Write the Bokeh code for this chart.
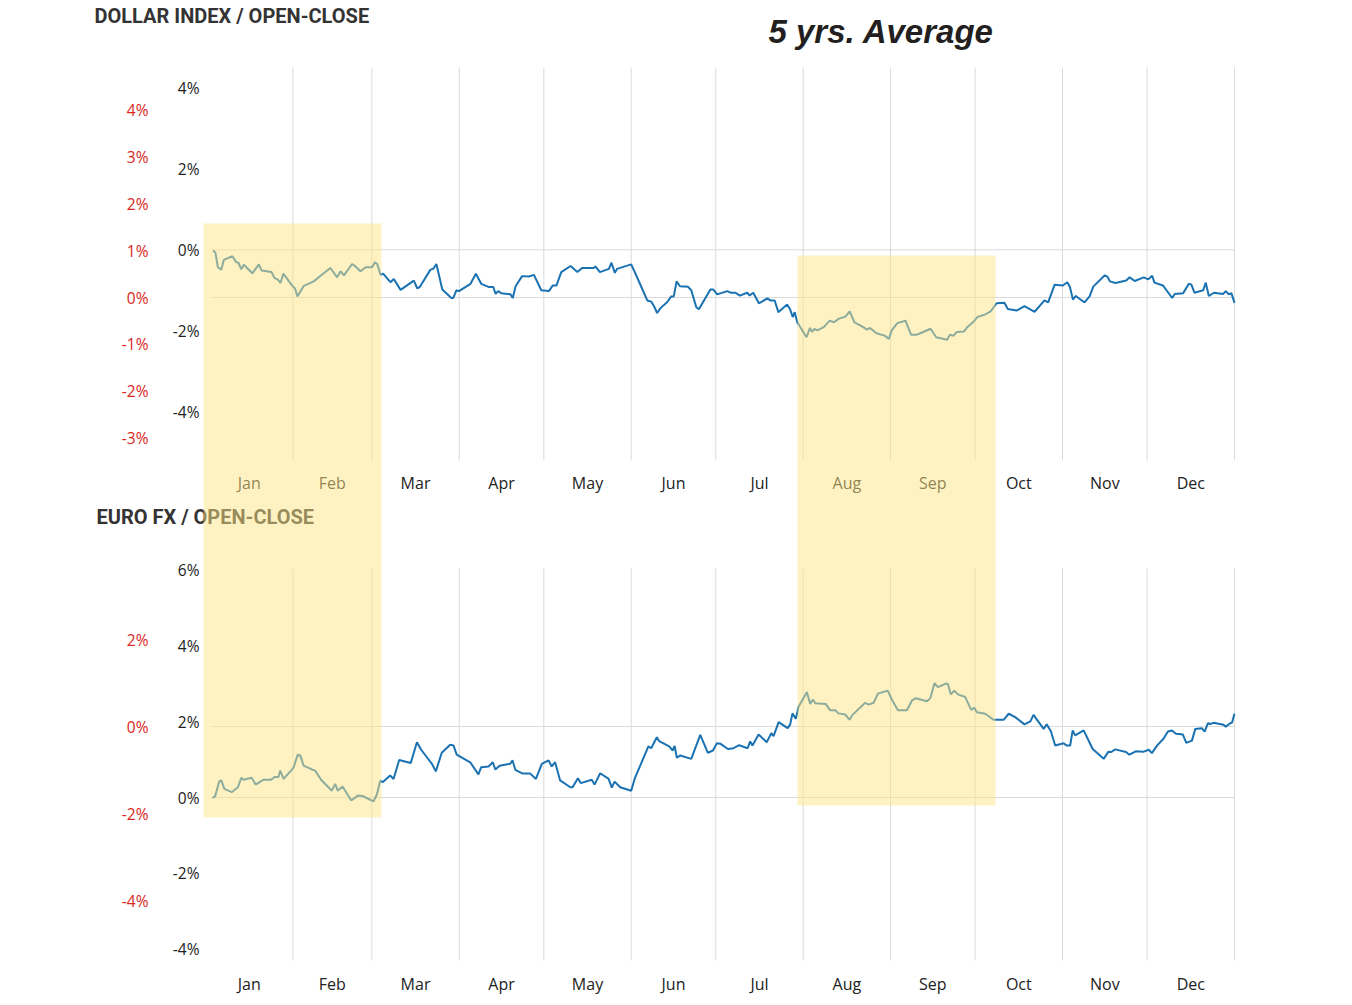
from bokeh.plotting import figure
from bokeh.models import Range1d, LinearAxis, FixedTicker, Label, BoxAnnotation
from bokeh.core.properties import value
from bokeh.embed import file_html
from bokeh.resources import INLINE

# ---- data -------------------------------------------------------------
months = ["Jan", "Feb", "Mar", "Apr", "May", "Jun",
          "Jul", "Aug", "Sep", "Oct", "Nov", "Dec"]
month_start = [0, 31, 59, 90, 120, 151, 181, 212, 243, 273, 304, 334, 365]

# dollar index, 5 yr average open-close path (% from Jan 1), by day of year
dollar_day = [2.7, 3.5, 4.4, 5.6, 6.5, 9.5, 11.0, 11.7, 12.7, 13.6, 16.6, 18.9, 19.9,
              23.4, 24.5, 25.6, 26.6, 27.6, 30.8, 31.8, 32.6, 34.9, 38.4, 40.8, 44.3,
              46.7, 47.9, 49.1, 52.0, 53.2, 55.0, 56.8, 59.1, 60.1, 60.9, 62.1, 63.0,
              65.6, 66.8, 69.2, 73.9, 75.1, 76.0, 79.8, 80.8, 81.9, 84.0, 87.2, 87.9,
              89.0, 89.9, 94.0, 95.9, 97.8, 100.6, 102.1, 102.9, 103.8, 104.9, 108.2,
              109.0, 110.0, 112.3, 114.7, 116.5, 119.1, 121.8, 123.2, 124.5, 126.2,
              129.5, 131.9, 133.6, 137.7, 138.3, 139.9, 143.1, 144.0, 145.2, 146.0,
              151.0, 152.0, 154.5, 156.7, 158.1, 159.0, 160.2, 161.4, 163.8, 165.2,
              166.1, 167.1, 168.3, 171.1, 172.3, 174.1, 175.0, 179.1, 180.1, 181.5,
              185.1, 186.2, 188.0, 189.5, 192.2, 193.0, 194.3, 196.3, 199.3, 200.4,
              201.9, 203.2, 206.3, 207.3, 208.3, 209.0, 209.9, 213.2, 214.4, 215.2,
              216.0, 217.0, 219.3, 221.4, 222.9, 224.7, 227.0, 228.5, 230.2, 232.4,
              234.7, 235.7, 238.0, 240.9, 242.4, 243.4, 245.4, 248.3, 250.3, 252.2,
              254.6, 257.2, 259.2, 263.1, 264.0, 265.4, 266.4, 269.0, 270.2, 272.5,
              273.8, 276.4, 278.5, 280.6, 283.4, 284.6, 287.7, 290.5, 294.1, 297.6,
              298.9, 301.2, 304.1, 305.7, 306.6, 307.7, 308.7, 311.8, 313.6, 314.9,
              319.0, 319.9, 320.8, 322.8, 326.6, 327.8, 329.6, 332.8, 334.4, 335.8,
              336.6, 339.6, 342.9, 343.8, 346.8, 348.8, 349.7, 350.8, 353.9, 354.8,
              355.9, 357.7, 361.0, 361.9, 363.0, 363.9, 365.0]
dollar_pct = [-0.02, -0.07, -0.43, -0.49, -0.25, -0.16, -0.31, -0.32, -0.48, -0.37, -0.58,
              -0.36, -0.51, -0.55, -0.70, -0.73, -0.82, -0.59, -0.89, -0.96, -1.15, -0.89,
              -0.78, -0.64, -0.45, -0.68, -0.53, -0.63, -0.35, -0.41, -0.53, -0.43, -0.43,
              -0.31, -0.35, -0.62, -0.59, -0.80, -0.72, -0.99, -0.76, -0.95, -0.92, -0.49,
              -0.47, -0.35, -0.98, -1.19, -1.19, -1.00, -1.02, -0.84, -0.59, -0.84, -0.92,
              -0.92, -1.09, -1.02, -1.07, -1.10, -1.19, -0.90, -0.65, -0.66, -0.62, -1.00,
              -1.02, -0.88, -0.88, -0.55, -0.40, -0.55, -0.45, -0.45, -0.41, -0.55, -0.47,
              -0.32, -0.57, -0.47, -0.36, -0.51, -0.90, -1.25, -1.28, -1.38, -1.56, -1.44,
              -1.29, -1.15, -1.15, -0.78, -0.90, -0.91, -1.00, -1.42, -1.47, -0.98, -0.98,
              -1.10, -1.02, -1.06, -1.06, -1.13, -1.06, -1.13, -1.06, -1.32, -1.20, -1.25,
              -1.25, -1.54, -1.35, -1.46, -1.66, -1.54, -1.79, -2.16, -1.93, -2.03, -1.95,
              -1.99, -1.91, -1.75, -1.79, -1.70, -1.65, -1.52, -1.79, -1.87, -1.97, -1.93,
              -2.06, -2.12, -2.20, -1.99, -1.81, -1.75, -2.10, -2.10, -2.03, -1.95, -2.16,
              -2.22, -2.10, -2.12, -2.03, -2.02, -1.91, -1.77, -1.66, -1.60, -1.52, -1.32,
              -1.31, -1.46, -1.50, -1.39, -1.53, -1.25, -1.30, -0.86, -0.88, -0.80, -0.91,
              -1.23, -1.14, -1.30, -1.15, -0.91, -0.63, -0.66, -0.78, -0.82, -0.76, -0.68,
              -0.77, -0.68, -0.73, -0.64, -0.81, -0.88, -1.19, -1.09, -1.07, -0.84, -0.86,
              -1.06, -1.00, -0.81, -1.14, -1.06, -1.09, -1.02, -1.10, -1.07, -1.31]

# euro fx, 5 yr average open-close path (% from Jan 1), by day of year
euro_day = [2.5, 3.4, 4.9, 5.6, 6.7, 9.3, 11.5, 12.7, 13.5, 16.4, 17.8, 20.6, 23.3, 24.5,
            25.9, 26.5, 27.7, 31.2, 32.7, 33.6, 34.8, 37.7, 38.9, 41.0, 44.8, 46.0, 46.9,
            48.6, 51.7, 54.0, 55.7, 59.6, 60.8, 62.0, 62.8, 65.5, 66.7, 68.7, 72.8, 75.0,
            76.5, 80.3, 81.7, 83.8, 86.8, 88.0, 89.1, 93.9, 96.8, 97.8, 100.4, 101.9,
            102.8, 104.3, 108.1, 108.9, 109.9, 112.5, 115.2, 117.2, 119.3, 121.7, 122.8,
            124.0, 125.8, 129.4, 130.2, 132.1, 133.1, 137.0, 138.0, 140.0, 143.0, 144.1,
            145.1, 147.1, 151.0, 152.2, 157.1, 158.1, 160.1, 160.9, 164.5, 165.7, 166.4,
            167.2, 168.4, 172.3, 175.5, 178.2, 180.0, 181.4, 182.6, 185.3, 187.3, 189.3,
            192.3, 193.2, 194.0, 196.2, 199.1, 200.7, 201.5, 203.3, 206.5, 207.4, 208.2,
            209.4, 210.4, 213.3, 214.5, 215.4, 216.3, 220.0, 221.6, 223.4, 224.5, 226.9,
            228.5, 229.5, 234.0, 235.2, 237.0, 238.5, 242.0, 243.5, 245.6, 248.8, 250.6,
            252.0, 255.9, 257.1, 258.6, 259.8, 262.4, 263.3, 264.4, 265.6, 266.9, 269.5,
            271.6, 272.7, 273.6, 276.6, 279.5, 283.1, 284.9, 287.2, 290.5, 292.6, 293.7,
            297.3, 298.4, 299.9, 301.4, 304.4, 305.5, 306.7, 307.6, 308.5, 311.5, 314.7,
            318.6, 320.3, 321.3, 322.7, 326.5, 327.7, 330.0, 332.8, 334.6, 335.7, 337.5,
            339.8, 341.4, 342.8, 344.2, 346.7, 347.9, 349.9, 351.1, 353.4, 354.4, 355.6,
            356.4, 357.6, 361.1, 361.9, 363.5, 364.1, 365.0]
euro_pct = [-0.01, 0.03, 0.43, 0.45, 0.23, 0.14, 0.27, 0.52, 0.47, 0.52, 0.34, 0.47, 0.47,
            0.54, 0.54, 0.71, 0.49, 0.78, 1.13, 1.11, 0.84, 0.74, 0.71, 0.47, 0.18, 0.36,
            0.18, 0.29, -0.08, 0.05, 0.04, -0.10, 0.08, 0.45, 0.40, 0.58, 0.49, 0.99, 0.91,
            1.46, 1.26, 0.89, 0.69, 1.18, 1.39, 1.37, 1.13, 0.93, 0.61, 0.80, 0.82, 0.93,
            0.74, 0.84, 0.89, 0.98, 0.73, 0.63, 0.63, 0.49, 0.89, 0.98, 0.82, 0.93, 0.45,
            0.27, 0.27, 0.51, 0.38, 0.47, 0.34, 0.64, 0.49, 0.26, 0.42, 0.27, 0.18, 0.49,
            1.35, 1.30, 1.59, 1.49, 1.35, 1.24, 1.36, 1.05, 1.11, 1.02, 1.65, 1.18, 1.24,
            1.43, 1.42, 1.28, 1.30, 1.38, 1.30, 1.48, 1.37, 1.66, 1.46, 1.70, 1.62, 1.99,
            1.83, 1.93, 2.22, 2.08, 2.40, 2.78, 2.47, 2.58, 2.49, 2.47, 2.30, 2.30, 2.22,
            2.19, 2.05, 2.18, 2.50, 2.45, 2.50, 2.74, 2.82, 2.58, 2.30, 2.30, 2.56, 2.62,
            2.54, 2.62, 3.02, 2.91, 3.00, 3.00, 2.72, 2.82, 2.72, 2.65, 2.31, 2.37, 2.25,
            2.21, 2.05, 2.05, 2.21, 2.12, 1.93, 2.01, 2.18, 1.81, 1.93, 1.74, 1.37, 1.43,
            1.37, 1.37, 1.77, 1.64, 1.77, 1.28, 1.02, 1.21, 1.20, 1.27, 1.20, 1.13, 1.22,
            1.21, 1.26, 1.17, 1.37, 1.55, 1.74, 1.77, 1.68, 1.66, 1.44, 1.50, 1.81, 1.83,
            1.74, 1.96, 1.94, 1.97, 1.92, 1.87, 1.96, 1.97, 2.21]

dollar_ticks = [4, 2, 0, -2, -4]
dollar_red_ticks = [4, 3, 2, 1, 0, -1, -2, -3]
euro_ticks = [6, 4, 2, 0, -2, -4]
euro_red_ticks = [2, 0, -2, -4]

# seasonal windows: start/end day, top on dollar scale (%), bottom on euro scale (%)
hl_start = [-0.7, 210.0]
hl_end = [62.4, 280.2]
hl_top = [0.65, -0.14]
hl_bottom = [-0.53, -0.21]

# ---- layout: both panels share one frame that fills the canvas ---------
W = 1344
FRAME_H = 965
PX_PER_DAY = 1029 / 365     # Jan 1 sits 205 px from the left edge
DAY0_PX = 205
BLUE = "#1a72b2"
RED = "#d9261c"
GRID = "#dadada"


def scale(zero_px, px_per_pct):
    # zero_px: distance of the 0% line from the frame top
    return Range1d(start=-(FRAME_H - zero_px) / px_per_pct, end=zero_px / px_per_pct)


def day_at(px):
    return (px - DAY0_PX) / PX_PER_DAY


usd = scale(249.3, 40.5)
usd_red = scale(297.0, 46.9)
eur = scale(797.0, 37.9)
eur_red = scale(726.0, 43.5)


def frac(v, r):
    return (v - r.start) / (r.end - r.start)


p = figure(frame_width=W, frame_height=FRAME_H,
           x_range=Range1d(day_at(0), day_at(W)), y_range=Range1d(0, 1),
           min_border_left=0, min_border_right=0,
           min_border_top=0, min_border_bottom=35,
           y_axis_location=None, output_backend="svg", toolbar_location=None)
p.extra_y_ranges = {"usd": usd, "usd_red": usd_red, "eur": eur, "eur_red": eur_red}
p.outline_line_color = None
p.xgrid.visible = False
p.ygrid.visible = False

# vertical month lines, one set per panel
p.segment(x0=month_start[1:], x1=month_start[1:], y0=-5.2, y1=4.5,
          y_range_name="usd", line_color=GRID, line_width=1)
p.segment(x0=month_start[1:], x1=month_start[1:], y0=-4.3, y1=6.05,
          y_range_name="eur", line_color=GRID, line_width=1)
# zero lines of both scales
for rn in ["usd", "usd_red", "eur", "eur_red"]:
    p.segment(x0=2, x1=365, y0=0, y1=0, y_range_name=rn, line_color=GRID, line_width=1)

p.line(dollar_day, dollar_pct, y_range_name="usd", line_color=BLUE, line_width=2)
p.line(euro_day, euro_pct, y_range_name="eur", line_color=BLUE, line_width=2)

mids = [(a + b) / 2 for a, b in zip(month_start[:-1], month_start[1:])]
p.text(x=mids, y=[-5.77] * 12, text=months, y_range_name="usd",
       text_font=value("Open Sans"), text_font_size="16px", text_color="#222",
       text_align="center", text_baseline="middle")

ax = p.xaxis[0]
ax.ticker = FixedTicker(ticks=mids, minor_ticks=[])
ax.major_label_overrides = {m: n for m, n in zip(mids, months)}
ax.axis_line_color = None
ax.major_tick_line_color = None
ax.major_tick_out = 0
ax.minor_tick_line_color = None
ax.major_label_standoff = 7
ax.major_label_text_font = "Open Sans"
ax.major_label_text_font_size = "16px"
ax.major_label_text_color = "#222"


def pct_axis(pairs, color, at_px, standoff):
    ticks = [frac(v, r) for v, r in pairs]
    labels = {t: "%d%%" % v for t, (v, r) in zip(ticks, pairs)}
    return LinearAxis(ticker=FixedTicker(ticks=ticks, minor_ticks=[]),
                      major_label_overrides=labels, fixed_location=day_at(at_px),
                      axis_line_color=None, major_tick_line_color=None,
                      major_tick_out=0, major_tick_in=0, minor_tick_line_color=None,
                      major_label_standoff=standoff,
                      major_label_text_font="Open Sans",
                      major_label_text_font_size="15.5px",
                      major_label_text_color=color)


black_axis = pct_axis([(v, usd) for v in dollar_ticks] + [(v, eur) for v in euro_ticks],
                      "#222", 200, 1)
red_axis = pct_axis([(v, usd_red) for v in dollar_red_ticks] +
                    [(v, eur_red) for v in euro_red_ticks], RED, 150, 2)
p.add_layout(black_axis, "left")
p.add_layout(red_axis, "left")

# titles (screen units count from the frame's lower left corner)
p.add_layout(Label(x=94, y=FRAME_H - 15, x_units="screen", y_units="screen",
                   text="DOLLAR INDEX / OPEN-CLOSE", text_font="Roboto",
                   text_font_style="bold", text_font_size="20px", text_color="#333",
                   text_baseline="middle"))
p.add_layout(Label(x=768, y=FRAME_H - 31, x_units="screen", y_units="screen",
                   text="5 yrs. Average", text_font="Liberation Sans",
                   text_font_style="bold italic", text_font_size="33px",
                   text_color="#231f20", text_baseline="middle"))
p.add_layout(Label(x=96, y=FRAME_H - 516, x_units="screen", y_units="screen",
                   text="EURO FX / OPEN-CLOSE", text_font="Roboto",
                   text_font_style="bold", text_font_size="20px", text_color="#333",
                   text_baseline="middle"))

# seasonal highlight windows span both panels
for s, e, t, b in zip(hl_start, hl_end, hl_top, hl_bottom):
    p.add_layout(BoxAnnotation(left=s, right=e, top=frac(t, usd), bottom=frac(b, eur),
                               fill_color="#ffe585", fill_alpha=0.5,
                               line_color=None, level="overlay"))

open("out.html", "w").write(file_html(p, INLINE))
